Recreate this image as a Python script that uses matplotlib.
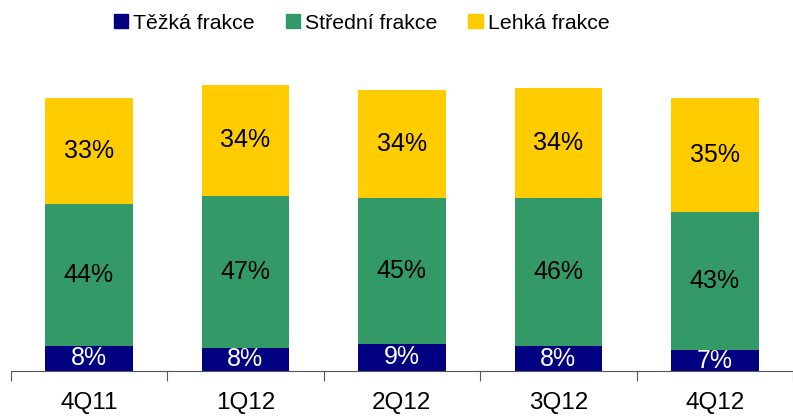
import numpy as np
import matplotlib
matplotlib.use("Agg")
import matplotlib.pyplot as plt
from matplotlib.patches import Patch

plt.rcParams['font.family'] = ['Liberation Sans', 'DejaVu Sans']

# kvartaly a objemy jednotlivych frakci (odhad z obrazku)
kvartaly = ['4Q11', '1Q12', '2Q12', '3Q12', '4Q12']
tezka = [25.3, 23.3, 27.3, 25.0, 21.0]
stredni = [142.0, 152.0, 146.0, 148.3, 138.3]
lehka = [105.7, 110.7, 107.7, 109.7, 113.7]

# popisky v procentech
tezka_pct = ['8%', '8%', '9%', '8%', '7%']
stredni_pct = ['44%', '47%', '45%', '46%', '43%']
lehka_pct = ['33%', '34%', '34%', '34%', '35%']

barvy = ['#000080', '#339966', '#FFCC00']
nazvy = ['Těžká frakce', 'Střední frakce', 'Lehká frakce']

W, H = 793, 419
fig = plt.figure(figsize=(W/100, H/100), dpi=100)
ax = fig.add_axes([10.7/W, (H-371)/H, 1-10.7/W, 371/H])

x = np.arange(len(kvartaly))
t = np.array(tezka)
s = np.array(stredni)
l = np.array(lehka)
sirka = 0.56

ax.bar(x, t, sirka, color=barvy[0])
ax.bar(x, s, sirka, bottom=t, color=barvy[1])
ax.bar(x, l, sirka, bottom=t+s, color=barvy[2])

for i in range(len(x)):
    ax.text(x[i], t[i]/2, tezka_pct[i], ha='center', va='center', color='white', fontsize=18)
    ax.text(x[i], t[i]+s[i]/2, stredni_pct[i], ha='center', va='center', color='black', fontsize=18)
    ax.text(x[i], t[i]+s[i]+l[i]/2, lehka_pct[i], ha='center', va='center', color='black', fontsize=18)

ax.set_xlim(-0.5, -0.5 + (W-10.7)/158.6)
ax.set_ylim(0, 371)

for sp in ['top', 'right', 'left']:
    ax.spines[sp].set_visible(False)
ax.spines['bottom'].set_color('#555555')
ax.set_yticks([])

ax.set_xticks(np.arange(-0.5, 5, 1))
ax.set_xticklabels([])
ax.tick_params(axis='x', which='major', direction='out', length=7, color='#555555')
ax.set_xticks(x, minor=True)
ax.set_xticklabels(kvartaly, minor=True)
ax.tick_params(axis='x', which='minor', length=0, pad=15, labelsize=17.5)

handles = [Patch(color=c) for c in barvy]
fig.legend(handles, nazvy, loc='center', bbox_to_anchor=(0.456, 0.945), ncol=3,
           frameon=False, fontsize=15.3, handlelength=0.67, handleheight=0.67,
           handletextpad=0.25, columnspacing=1.45, borderpad=0)

plt.savefig('out.png', dpi=100)
plt.close()
